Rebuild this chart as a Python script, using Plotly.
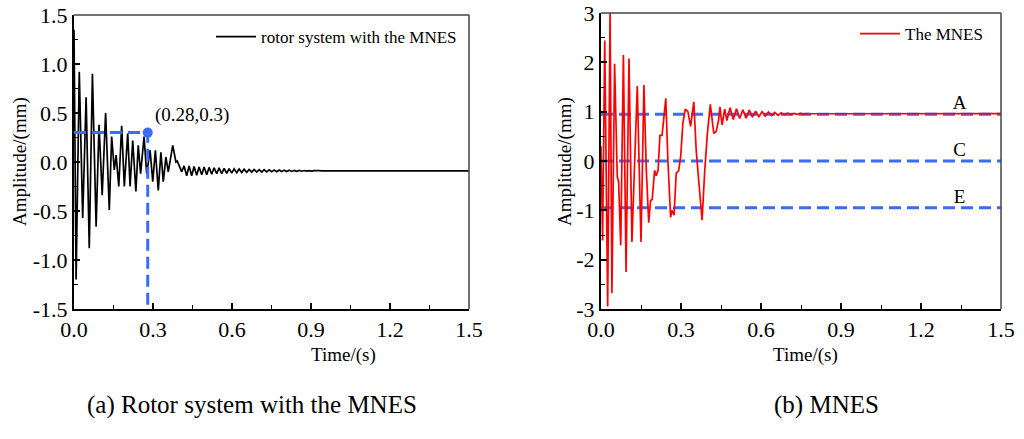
import plotly.graph_objects as go

# ---------------- (a) rotor system with the MNES ----------------
rotor_t = [0.000, 0.008, 0.020, 0.033, 0.046, 0.058, 0.070, 0.084, 0.095, 0.107,
           0.120, 0.134, 0.143, 0.153, 0.160, 0.170, 0.181, 0.191, 0.204, 0.213,
           0.223, 0.235, 0.244, 0.253, 0.266, 0.276, 0.289, 0.299, 0.309, 0.320,
           0.330, 0.339, 0.349, 0.358, 0.375, 0.387, 0.392, 0.409,
           0.418, 0.428, 0.437, 0.447, 0.456, 0.466, 0.475, 0.485, 0.494, 0.504,
           0.513, 0.523, 0.532, 0.542, 0.551, 0.561, 0.570, 0.580, 0.589, 0.599,
           0.608, 0.618, 0.627, 0.637, 0.646, 0.656, 0.665, 0.675, 0.684, 0.694,
           0.703, 0.713, 0.722, 0.732, 0.741, 0.751, 0.760, 0.770, 0.779, 0.789,
           0.798, 0.808, 0.817, 0.827, 0.836, 0.846, 0.855, 0.865, 0.874, 0.884,
           0.893, 0.903, 0.912, 0.922, 0.931, 0.941, 0.950, 0.960, 0.969, 0.979,
           0.988, 1.000, 1.500]
rotor_amp = [1.35, -1.20, 0.92, -0.57, 0.66, -0.88, 0.90, -0.66, 0.38, -0.34,
             0.50, -0.49, 0.26, -0.08, 0.07, -0.25, 0.37, -0.25, 0.29, -0.25,
             0.22, -0.30, 0.17, -0.12, 0.26, -0.12, 0.12, -0.20, 0.12, -0.29,
             0.10, -0.20, 0.05, -0.10, 0.17, 0.00, 0.01, -0.10,
             -0.04, -0.14, -0.04, -0.14, -0.045, -0.135, -0.05, -0.13, -0.05, -0.13,
             -0.055, -0.125, -0.06, -0.12, -0.06, -0.12, -0.065, -0.115, -0.067, -0.113,
             -0.07, -0.11, -0.072, -0.108, -0.074, -0.106, -0.076, -0.104, -0.077, -0.103,
             -0.078, -0.102, -0.079, -0.101, -0.080, -0.100, -0.081, -0.099, -0.082, -0.098,
             -0.083, -0.097, -0.084, -0.096, -0.085, -0.095, -0.086, -0.094, -0.087, -0.093,
             -0.088, -0.092, -0.088, -0.092, -0.089, -0.091, -0.089, -0.091, -0.0895, -0.0905,
             -0.090, -0.090, -0.090]

marker_t = 0.28
marker_amp = 0.3

# ---------------- (b) MNES ----------------
mnes_t = [0.000, 0.006, 0.014, 0.025, 0.034, 0.041, 0.051, 0.061, 0.066, 0.074,
          0.084, 0.094, 0.105, 0.116, 0.136, 0.150, 0.161, 0.170, 0.179, 0.186,
          0.192, 0.201, 0.207, 0.214, 0.221, 0.229, 0.243, 0.251, 0.261, 0.266,
          0.274, 0.282, 0.291, 0.299, 0.307, 0.316, 0.326, 0.336, 0.348, 0.357,
          0.366, 0.379, 0.389, 0.399, 0.410, 0.423, 0.432, 0.441, 0.446, 0.454,
          0.464, 0.472, 0.484, 0.496, 0.508, 0.520, 0.532, 0.544, 0.556, 0.568,
          0.580, 0.592, 0.604, 0.616, 0.628, 0.640, 0.652, 0.664, 0.676, 0.688,
          0.700, 0.712, 0.724, 0.736, 0.748, 0.760, 0.772, 0.784, 1.500]
mnes_amp = [0.30, -1.61, 2.44, -2.95, 3.05, -2.68, 1.97, -0.32, -0.42, -1.71,
            2.15, -2.25, 2.08, -1.64, 1.52, -1.64, 1.54, -0.19, -1.25, -0.80,
            -0.78, -0.19, -0.30, -0.19, 0.52, 0.52, 1.27, 0.00, -1.14, -1.00,
            -1.10, -0.25, -0.20, 0.10, 0.77, 1.05, 1.00, 0.70, 1.20, 0.22,
            -0.37, -1.20, -0.20, 0.56, 1.15, 0.56, 0.60, 0.83, 1.10, 0.73,
            1.05, 0.82, 1.08, 0.84, 1.06, 0.86, 1.04, 0.87, 1.03, 0.89,
            1.01, 0.90, 1.00, 0.91, 0.99, 0.92, 0.985, 0.925, 0.975, 0.935,
            0.97, 0.94, 0.965, 0.945, 0.965, 0.95, 0.962, 0.958, 0.96]

ref_levels = [0.95, 0.0, -0.95]
ref_labels = ["A", "C", "E"]
ref_label_t = 1.345

# ---------------- ticks ----------------
time_ticks = [0.0, 0.3, 0.6, 0.9, 1.2, 1.5]
time_ticktext = ["0.0", "0.3", "0.6", "0.9", "1.2", "1.5"]
amp_a_ticks = [-1.5, -1.0, -0.5, 0.0, 0.5, 1.0, 1.5]
amp_a_ticktext = ["-1.5", "-1.0", "-0.5", "0.0", "0.5", "1.0", "1.5"]
amp_b_ticks = [-3, -2, -1, 0, 1, 2, 3]
amp_b_ticktext = ["-3", "-2", "-1", "0", "1", "2", "3"]

SERIF = "Liberation Serif"
BLUE = "#3a6cf4"
W, H = 1024, 439

fig = go.Figure()

fig.add_trace(go.Scatter(
    x=rotor_t, y=rotor_amp, mode="lines", name="rotor system with the MNES",
    line=dict(color="black", width=1.7), xaxis="x", yaxis="y", legend="legend"))

# guide lines to the marked point
fig.add_trace(go.Scatter(
    x=[0.0, marker_t, marker_t], y=[marker_amp, marker_amp, -1.5], mode="lines",
    line=dict(color=BLUE, width=3, dash="12px,6px"), showlegend=False,
    xaxis="x", yaxis="y"))
fig.add_trace(go.Scatter(
    x=[marker_t], y=[marker_amp], mode="markers+text",
    marker=dict(color=BLUE, size=10),
    text=[f"({marker_t},{marker_amp})"], textposition="top right",
    textfont=dict(family=SERIF, size=19, color="black"),
    showlegend=False, xaxis="x", yaxis="y"))

for lvl in ref_levels:
    fig.add_trace(go.Scatter(
        x=[0.0, 1.5], y=[lvl, lvl], mode="lines",
        line=dict(color=BLUE, width=3, dash="12px,6px"), showlegend=False,
        xaxis="x2", yaxis="y2"))

fig.add_trace(go.Scatter(
    x=mnes_t, y=mnes_amp, mode="lines", name="The MNES",
    line=dict(color="red", width=1.7), xaxis="x2", yaxis="y2", legend="legend2"))

fig.add_trace(go.Scatter(
    x=[ref_label_t] * len(ref_levels), y=ref_levels, mode="text",
    text=ref_labels, textposition="top center",
    textfont=dict(family=SERIF, size=19, color="black"),
    showlegend=False, xaxis="x2", yaxis="y2"))

tick_font = dict(family=SERIF, size=22, color="black")


def x_axis(domain, anchor):
    return dict(domain=domain, anchor=anchor, range=[0, 1.5],
                tickvals=time_ticks, ticktext=time_ticktext,
                ticks="inside", ticklen=6, tickwidth=1.5, tickcolor="black",
                minor=dict(ticks="inside", ticklen=4, tickwidth=1.2,
                           tickcolor="black", dtick=0.15),
                showline=True, linecolor="black", linewidth=2,
                showgrid=False, zeroline=False, tickfont=tick_font,
                automargin=False, fixedrange=True)


def y_axis(domain, anchor, rng, vals, txt, minor_step):
    return dict(domain=domain, anchor=anchor, range=rng,
                tickvals=vals, ticktext=txt,
                ticks="inside", ticklen=6, tickwidth=1.5, tickcolor="black",
                minor=dict(ticks="inside", ticklen=4, tickwidth=1.2,
                           tickcolor="black", dtick=minor_step),
                showline=True, linecolor="black", linewidth=2,
                showgrid=False, zeroline=False, tickfont=tick_font,
                automargin=False, fixedrange=True)


xa = [74 / W, 469 / W]
xb = [601 / W, 1001 / W]
ya = [1 - 309 / H, 1 - 15 / H]
yb = [1 - 309 / H, 1 - 13 / H]

shapes = []
for xr, yr in (("x", "y"), ("x2", "y2")):
    # top and right frame edges in a lighter tone
    shapes.append(dict(type="line", xref=f"{xr} domain", yref=f"{yr} domain",
                       x0=0, x1=1, y0=1, y1=1, line=dict(color="#444", width=1.5)))
    shapes.append(dict(type="line", xref=f"{xr} domain", yref=f"{yr} domain",
                       x0=1, x1=1, y0=0, y1=1, line=dict(color="#444", width=1.5)))

title_font = dict(family=SERIF, size=19, color="black")
caption_font = dict(family=SERIF, size=25, color="black")

annotations = [
    dict(text="Time/(s)", x=343 / W, y=1 - 355 / H, xref="paper", yref="paper",
         showarrow=False, font=title_font, xanchor="center", yanchor="middle"),
    dict(text="Time/(s)", x=805 / W, y=1 - 355 / H, xref="paper", yref="paper",
         showarrow=False, font=title_font, xanchor="center", yanchor="middle"),
    dict(text="Amplitude/(mm)", x=20 / W, y=1 - 162 / H, xref="paper", yref="paper",
         showarrow=False, font=title_font, textangle=-90,
         xanchor="center", yanchor="middle"),
    dict(text="Amplitude/(mm)", x=565 / W, y=1 - 162 / H, xref="paper", yref="paper",
         showarrow=False, font=title_font, textangle=-90,
         xanchor="center", yanchor="middle"),
    dict(text="(a) Rotor system with the MNES", x=252 / W, y=1 - 405 / H,
         xref="paper", yref="paper", showarrow=False, font=caption_font,
         xanchor="center", yanchor="middle"),
    dict(text="(b) MNES", x=826 / W, y=1 - 405 / H,
         xref="paper", yref="paper", showarrow=False, font=caption_font,
         xanchor="center", yanchor="middle"),
]

legend_common = dict(font=dict(family=SERIF, size=17, color="black"),
                     bgcolor="rgba(0,0,0,0)", borderwidth=0,
                     xanchor="left", yanchor="middle", itemwidth=40)

fig.update_layout(
    width=W, height=H, margin=dict(l=0, r=0, t=0, b=0, autoexpand=False),
    paper_bgcolor="white", plot_bgcolor="white",
    xaxis=x_axis(xa, "y"),
    yaxis=y_axis(ya, "x", [-1.5, 1.5], amp_a_ticks, amp_a_ticktext, 0.25),
    xaxis2=x_axis(xb, "y2"),
    yaxis2=y_axis(yb, "x2", [-3, 3], amp_b_ticks, amp_b_ticktext, 0.5),
    legend=dict(x=211 / W, y=1 - 37 / H, **legend_common),
    legend2=dict(x=855 / W, y=1 - 34 / H, **legend_common),
    shapes=shapes, annotations=annotations,
)

fig.write_html("out.html", config={"displayModeBar": False})
